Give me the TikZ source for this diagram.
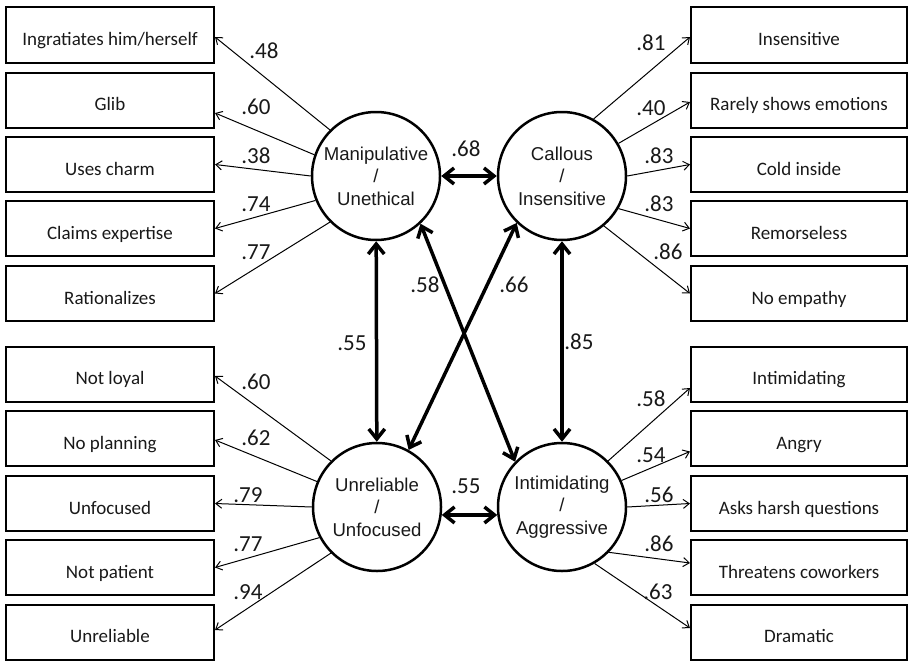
\documentclass[tikz,border=0pt]{standalone}
\usepackage{fontspec}
\setmainfont{Carlito}
\newfontfamily\arialfont{Liberation Sans}
\usetikzlibrary{arrows.meta}

\begin{document}
\begin{tikzpicture}[x=1pt,y=-1pt,
factor/.style={circle,draw,line width=2.5pt,minimum size=128pt,inner sep=0pt,align=center,
  font=\arialfont\fontsize{18.6}{22.5}\selectfont,text=black!90},
item/.style={draw,line width=2pt,minimum width=208pt,minimum height=55pt,inner sep=0pt,
  text height=21pt,text depth=0pt,font=\fontsize{19}{22}\selectfont,text=black!90},
ritem/.style={item,minimum width=216pt},
loading/.style={-{Straight Barb[length=6pt,width=9pt]},line width=1pt},
corr/.style={{Straight Barb[length=10pt,width=16pt]}-{Straight Barb[length=10pt,width=16pt]},line width=3.5pt},
coef/.style={font=\fontsize{23}{26}\selectfont,inner sep=0pt,text=black!90}]
\useasboundingbox (0,0) rectangle (909,661);

% latent factors
\node[factor] (M) at (376,176) {Manipulative\\/\\Unethical};
\node[factor] (C) at (562,176) {Callous\\/\\Insensitive};
\node[factor] (U) at (377,507) {Unreliable\\/\\Unfocused};
\node[factor] (I) at (562,507) {Intimidating\\/\\Aggressive};

% items
\node[item] (ingr)    at (110,35)    {Ingratiates him/herself};
\node[item] (glib)    at (110,100)   {Glib};
\node[item] (charm)   at (110,164.5) {Uses charm};
\node[item] (expert)  at (110,228.5) {Claims expertise};
\node[item] (ration)  at (110,293.5) {Rationalizes};
\node[item] (loyal)   at (110,374)   {Not loyal};
\node[item] (plan)    at (110,438.5) {No planning};
\node[item] (unfoc)   at (110,503.5) {Unfocused};
\node[item] (patient) at (110,567.5) {Not patient};
\node[item] (unrel)   at (110,632)   {Unreliable};
\node[ritem] (insens)  at (799,35)    {Insensitive};
\node[ritem] (rarely)  at (799,100)   {Rarely shows emotions};
\node[ritem] (cold)    at (799,164.5) {Cold inside};
\node[ritem] (remorse) at (799,228.5) {Remorseless};
\node[ritem] (empathy) at (799,293.5) {No empathy};
\node[ritem] (intim)   at (799,374)   {Intimidating};
\node[ritem] (angry)   at (799,438.5) {Angry};
\node[ritem] (harsh)   at (799,503.5) {Asks harsh questions};
\node[ritem] (threat)  at (799,567.5) {Threatens coworkers};
\node[ritem] (drama)   at (799,632)   {Dramatic};

% loadings
\draw[loading] (M.135) -- ([yshift=-2pt]ingr.east);
\draw[loading] (M.161) -- ([yshift=-13pt]glib.east);
\draw[loading] (M.180) -- (charm.east);
\draw[loading] (M.202) -- (expert.east);
\draw[loading] (M.225) -- (ration.east);
\draw[loading] (U.135) -- ([yshift=-2pt]loyal.east);
\draw[loading] (U.157) -- ([yshift=-1.5pt]plan.east);
\draw[loading] (U.180) -- (unfoc.east);
\draw[loading] (U.208) -- (patient.east);
\draw[loading] (U.225) -- ([yshift=2pt]unrel.east);
\draw[loading] (C.61)  -- ([yshift=-2pt]insens.west);
\draw[loading] (C.30)  -- ([yshift=-2pt]rarely.west);
\draw[loading] (C.0)   -- (cold.west);
\draw[loading] (C.-30) -- (remorse.west);
\draw[loading] (C.-50) -- (empathy.west);
\draw[loading] (I.45)  -- ([yshift=-14pt]intim.west);
\draw[loading] (I.24)  -- ([yshift=-13pt]angry.west);
\draw[loading] (I.0)   -- (harsh.west);
\draw[loading] (I.-44) -- ([yshift=4.5pt]threat.west);
\draw[loading] (I.-60) -- ([yshift=4pt]drama.west);

\node[coef] (w-ingr)    at (264,51)  {.48};
\node[coef] (w-glib)    at (256,107) {.60};
\node[coef] (w-charm)   at (256,156) {.38};
\node[coef] (w-expert)  at (256,204) {.74};
\node[coef] (w-ration)  at (256,252) {.77};
\node[coef] (w-loyal)   at (256,382) {.60};
\node[coef] (w-plan)    at (256,438) {.62};
\node[coef] (w-unfoc)   at (248,495) {.79};
\node[coef] (w-patient) at (248,544) {.77};
\node[coef] (w-unrel)   at (248,592) {.94};
\node[coef] (w-insens)  at (651,43)  {.81};
\node[coef] (w-rarely)  at (651,108) {.40};
\node[coef] (w-cold)    at (659,156) {.83};
\node[coef] (w-remorse) at (659,204) {.83};
\node[coef] (w-empathy) at (668,252) {.86};
\node[coef] (w-intim)   at (651,399) {.58};
\node[coef] (w-angry)   at (651,455) {.54};
\node[coef] (w-harsh)   at (659,495) {.56};
\node[coef] (w-threat)  at (659,544) {.86};
\node[coef] (w-drama)   at (658,592) {.63};

% factor correlations
\draw[corr] (M) -- (C);
\draw[corr] (U.-7) -- (I.187);
\draw[corr] (M) -- (U);
\draw[corr] (C) -- (I);
\draw[corr] (M.-47) -- (I.136);
\draw[corr] (C.226) -- (U.61);

\node[coef] (r-MC) at (466,149) {.68};
\node[coef] (r-UI) at (466,486) {.55};
\node[coef] (r-MU) at (352,343) {.55};
\node[coef] (r-CI) at (579,342) {.85};
\node[coef] (r-MI) at (425,285) {.58};
\node[coef] (r-CU) at (514,285) {.66};
\end{tikzpicture}
\end{document}
